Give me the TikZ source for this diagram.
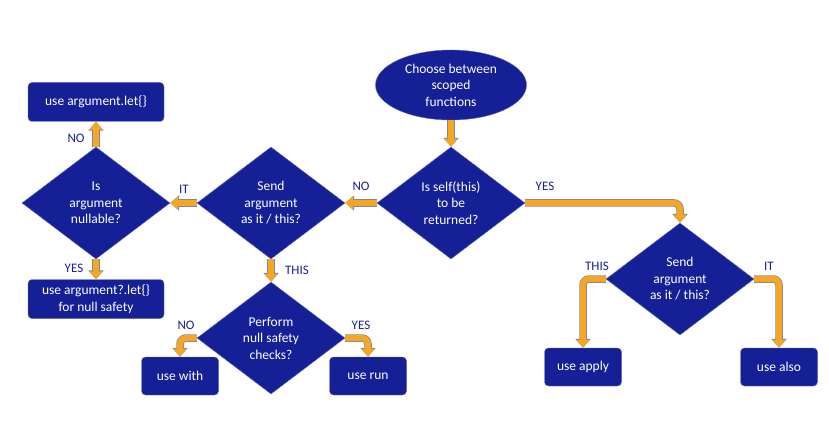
\documentclass[tikz,border=0pt]{standalone}
\usepackage{fontspec}
\setmainfont{Carlito}
\usetikzlibrary{shapes.geometric,arrows.meta}
\definecolor{flowblue}{RGB}{22,32,150}
\definecolor{flowedge}{RGB}{95,105,185}
\definecolor{floworange}{RGB}{245,166,35}
\definecolor{arrowedge}{RGB}{125,135,170}

\begin{document}
\begin{tikzpicture}[x=1pt,y=-1pt,
		shapetext/.style={text=white, align=center, inner sep=0pt, font=\fontsize{13.5}{16.5}\selectfont},
		box/.style={shapetext, draw=flowedge, fill=flowblue, rounded corners=4pt, minimum width=77pt, minimum height=38pt},
		decision/.style={shapetext, diamond, draw=flowedge, fill=flowblue, minimum width=148pt, minimum height=112pt},
		start/.style={shapetext, ellipse, draw=flowedge, fill=flowblue, minimum width=151pt, minimum height=70pt},
		flow/.style={floworange, line width=6pt, rounded corners=6pt, -{Triangle[width=13pt,length=8pt]},
			preaction={draw=arrowedge, line width=7.5pt, -{Triangle[width=15pt,length=9pt]}}},
		answer/.style={text=flowblue, font=\fontsize{13}{15}\selectfont, inner sep=0pt}]
		\useasboundingbox (0,0) rectangle (829,446);
		% Draw shapes
		\node [start] (choose) at (451,85) {Choose between\\scoped\\functions};
		\node [decision] (self) at (451,203) {Is self(this)\\to be\\returned?};
		\node [decision] (sendl) at (271,203) {Send\\argument\\as it / this?};
		\node [decision] (nullable) at (96,203) {Is\\argument\\nullable?};
		\node [box, minimum width=136pt, minimum height=39pt] (let) at (96,102) {use argument.let\{\}};
		\node [box, minimum width=136pt, minimum height=39pt] (safelet) at (96,299) {use argument?.let\{\}\\for null safety};
		\node [decision] (checks) at (271,338) {Perform\\null safety\\checks?};
		\node [box] (with) at (180,376) {use with};
		\node [box] (run) at (368,376) {use run};
		\node [decision] (sendr) at (680,279) {Send\\argument\\as it / this?};
		\node [box] (apply) at (583,367) {use apply};
		\node [box] (also) at (779,367) {use also};
		% Draw connectors
		\draw [flow] (choose) -- (self);
		\draw [flow] (self) -- (sendl);
		\draw [flow] (sendl) -- (nullable);
		\draw [flow] (nullable) -- (let);
		\draw [flow] (nullable) -- (safelet);
		\draw [flow] (sendl) -- (checks);
		\draw [flow] (checks.west) -| (with.north);
		\draw [flow] (checks.east) -| (run.north);
		\draw [flow] (self.east) -| (sendr.north);
		\draw [flow] (sendr.west) -| (apply.north);
		\draw [flow] (sendr.east) -| (also.north);
		% Draw answers
		\node [answer] (selfno) at (361,186) {NO};
		\node [answer] (selfyes) at (545,186) {YES};
		\node [answer] (sendlit) at (184,189) {IT};
		\node [answer] (sendlthis) at (297,270) {THIS};
		\node [answer] (nullno) at (76,138) {NO};
		\node [answer] (nullyes) at (74,268) {YES};
		\node [answer] (checksno) at (186,325) {NO};
		\node [answer] (checksyes) at (361,325) {YES};
		\node [answer] (sendrthis) at (597,266) {THIS};
		\node [answer] (sendrit) at (769,266) {IT};
	\end{tikzpicture}
\end{document}
